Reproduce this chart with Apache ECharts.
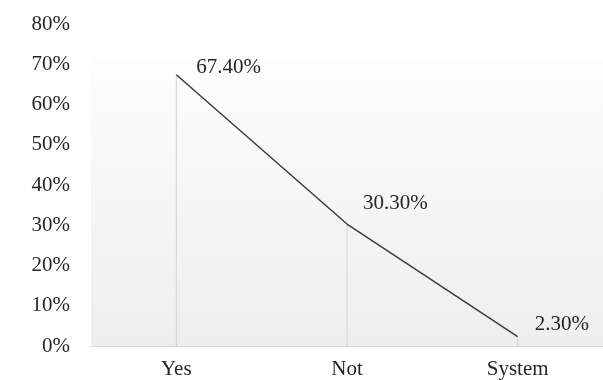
<!DOCTYPE html>
<html>
<head>
<meta charset="utf-8">
<script src="https://cdn.jsdelivr.net/npm/echarts@6/dist/echarts.min.js"></script>
<style>
  html, body { margin: 0; padding: 0; background: #fff; }
  #chart { width: 603px; height: 380px; }
</style>
</head>
<body>
<div id="chart"></div>
<script>
// Answer categories and their shares (percent)
const categories = ['Yes', 'Not', 'System'];
const shares = [67.4, 30.3, 2.3];
const yTicks = [0, 10, 20, 30, 40, 50, 60, 70, 80];

// Per-point label nudges (style only)
const labelOffsets = [[0, -7], [-4, -21], [-3, -12]];

const FONT = '"Liberation Serif", "DejaVu Serif", serif';
const TEXT = '#262626';

const chart = echarts.init(document.getElementById('chart'));
chart.setOption({
  animation: false,
  grid: {
    left: 91, right: -3, top: 24, bottom: 33,
    show: true,
    borderWidth: 0,
    backgroundColor: {
      type: 'linear', x: 0, y: 0, x2: 0, y2: 1,
      colorStops: [
        { offset: 0, color: '#ffffff' },
        { offset: 0.105, color: '#ffffff' },
        { offset: 0.106, color: '#fdfdfd' },
        { offset: 1, color: '#eeeeee' }
      ]
    }
  },
  xAxis: {
    type: 'category',
    data: categories,
    boundaryGap: true,
    axisLine: { lineStyle: { color: '#d6d6d6', width: 1 } },
    axisTick: { show: false },
    axisLabel: { color: TEXT, fontFamily: FONT, fontSize: 21, margin: 13 }
  },
  yAxis: {
    type: 'value',
    min: yTicks[0],
    max: yTicks[yTicks.length - 1],
    interval: 10,
    splitLine: { show: false },
    axisLine: { show: false },
    axisTick: { show: false },
    axisLabel: {
      color: TEXT, fontFamily: FONT, fontSize: 21, margin: 21,
      formatter: v => v + '%'
    }
  },
  series: [
    {
      // thin drop lines from each point down to the axis
      type: 'bar',
      data: shares,
      barWidth: 1,
      itemStyle: { color: '#d4d4d4' },
      silent: true,
      z: 1
    },
    {
      type: 'line',
      data: shares.map((v, i) => ({
        value: v,
        label: { offset: labelOffsets[i] }
      })),
      showSymbol: true,
      symbol: 'circle',
      symbolSize: 0,
      itemStyle: { color: '#3c3c3c' },
      lineStyle: { color: '#3c3c3c', width: 1.5 },
      label: {
        show: true,
        position: 'right',
        distance: 20,
        color: TEXT,
        fontFamily: FONT,
        fontSize: 21,
        formatter: p => p.value.toFixed(2) + '%'
      },
      z: 3
    }
  ]
});
</script>
</body>
</html>
